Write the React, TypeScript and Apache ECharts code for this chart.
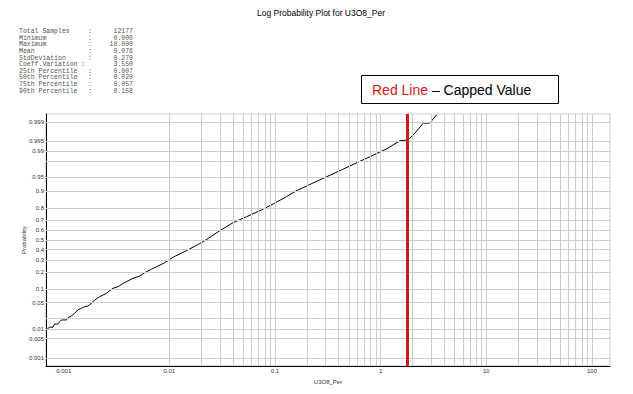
import React, { useEffect, useRef } from "react";
import * as echarts from "echarts";

// ---- data ----
const TITLE = "Log Probability Plot for U3O8_Per";
const X_NAME = "U3O8_Per";
const Y_NAME = "Probability";

const statLabels = [
  "Total Samples", "Minimum", "Maximum", "Mean", "StdDeviation", "Coeff.Variation",
  "25th Percentile", "50th Percentile", "75th Percentile", "90th Percentile",
];
const statValues = ["12177", "0.000", "18.000", "0.076", "0.270", "3.550", "0.007", "0.020", "0.057", "0.158"];

// curve: value (U3O8_Per) vs cumulative probability
const curveX = [
  0.00069, 0.00073, 0.00079, 0.00082, 0.00088, 0.00092, 0.00095, 0.00106, 0.0011, 0.00118,
  0.00127, 0.00136, 0.00147, 0.00158, 0.0017, 0.00183, 0.00197, 0.00219, 0.00236, 0.00254,
  0.00273, 0.00293, 0.00327, 0.00365, 0.00406, 0.00453, 0.00525, 0.00585, 0.00676, 0.00781,
  0.00904, 0.0108, 0.0145, 0.0209, 0.03, 0.0401, 0.0537, 0.0718, 0.0959, 0.1285,
  0.157, 0.243, 0.438, 0.678, 0.79, 1.146, 1.52, 1.76, 1.86, 2.11,
  2.53, 2.92, 3.38,
];
const curveP = [
  0.0092, 0.0112, 0.0112, 0.0139, 0.0139, 0.0162, 0.0181, 0.0181, 0.021, 0.0233,
  0.0275, 0.0335, 0.0369, 0.0404, 0.042, 0.0488, 0.0581, 0.0689, 0.0749, 0.0815,
  0.0922, 0.103, 0.111, 0.128, 0.142, 0.158, 0.173, 0.196, 0.222, 0.248,
  0.276, 0.325, 0.39, 0.482, 0.596, 0.675, 0.729, 0.778, 0.827, 0.872,
  0.9, 0.9365, 0.968, 0.982, 0.9854, 0.9916, 0.99533, 0.99558, 0.996, 0.99745,
  0.9989, 0.9989, 0.99948,
];

const cappedValue = [1.8];

const yGridProbs = [0.001, 0.005, 0.01, 0.02, 0.05, 0.1, 0.2, 0.3, 0.4, 0.5, 0.6, 0.7, 0.8, 0.9, 0.95, 0.98, 0.99, 0.995, 0.999];
const yLabelProbs = ["0.001", "0.005", "0.01", "0.05", "0.1", "0.2", "0.3", "0.4", "0.5", "0.6", "0.7", "0.8", "0.9", "0.95", "0.99", "0.995", "0.999"];

const X_MIN = 0.00068;
const X_MAX = 148;
const P_MIN = 0.000483; // z = -3.3
const P_MAX = 0.999517; // z = 3.3

// inverse standard normal CDF (probability-scale transform)
function probit(p: number): number {
  const a = [-3.969683028665376e1, 2.209460984245205e2, -2.759285104469687e2, 1.38357751867269e2, -3.066479806614716e1, 2.506628277459239];
  const b = [-5.447609879822406e1, 1.615858368580409e2, -1.556989798598866e2, 6.680131188771972e1, -1.328068155288572e1];
  const c = [-7.784894002430293e-3, -3.223964580411365e-1, -2.400758277161838, -2.549732539343734, 4.374664141464968, 2.938163982698783];
  const d = [7.784695709041462e-3, 3.224671290700398e-1, 2.445134137142996, 3.754408661907416];
  const pl = 0.02425;
  if (p < pl) {
    const q = Math.sqrt(-2 * Math.log(p));
    return (((((c[0] * q + c[1]) * q + c[2]) * q + c[3]) * q + c[4]) * q + c[5]) / ((((d[0] * q + d[1]) * q + d[2]) * q + d[3]) * q + 1);
  }
  if (p <= 1 - pl) {
    const q = p - 0.5;
    const r = q * q;
    return ((((((a[0] * r + a[1]) * r + a[2]) * r + a[3]) * r + a[4]) * r + a[5]) * q) / (((((b[0] * r + b[1]) * r + b[2]) * r + b[3]) * r + b[4]) * r + 1);
  }
  const q = Math.sqrt(-2 * Math.log(1 - p));
  return -(((((c[0] * q + c[1]) * q + c[2]) * q + c[3]) * q + c[4]) * q + c[5]) / ((((d[0] * q + d[1]) * q + d[2]) * q + d[3]) * q + 1);
}

const SANS = "'Liberation Sans', Arial, sans-serif";
const MONO = "'Liberation Mono', 'Courier New', monospace";
const GRID_COLOR = "#cdcdcd";
const STAT_COLOR = "#555";

export default function App() {
  const ref = useRef<HTMLDivElement>(null);

  useEffect(() => {
    if (!ref.current) return;
    const chart = echarts.init(ref.current, null, { renderer: "svg" });

    // vertical grid lines at 1..9 x 10^n
    const xGrid: any[] = [];
    for (let n = -3; n <= 2; n++) {
      for (let k = 1; k <= 9; k++) {
        const v = k * Math.pow(10, n);
        if (v > X_MIN && v < X_MAX) xGrid.push({ xAxis: v });
      }
    }
    const yGrid = yGridProbs.map((p) => {
      const lbl = yLabelProbs.find((s) => Math.abs(parseFloat(s) - p) < 1e-9);
      return {
        yAxis: probit(p),
        label: lbl
          ? { show: true, position: "start", formatter: lbl, fontSize: 6, color: "#333", fontFamily: SANS, distance: 2 }
          : { show: false },
      };
    });

    const curveData = curveX.map((x, i) => [x, probit(curveP[i])]);

    const graphics: any[] = [
      {
        type: "text",
        x: 321,
        y: 13,
        style: { text: TITLE, fontSize: 8.5, fontFamily: SANS, fill: "#000", align: "center", verticalAlign: "middle" },
      },
      {
        type: "rect",
        shape: { x: 361.5, y: 75.5, width: 197, height: 28 },
        style: { fill: "#fff", stroke: "#000", lineWidth: 1 },
      },
      {
        type: "text",
        x: 372,
        y: 89.5,
        style: {
          text: "{r|Red Line} – Capped Value",
          fontSize: 14,
          fontFamily: SANS,
          fill: "#000",
          verticalAlign: "middle",
          rich: { r: { fill: "#d01818", fontSize: 14, fontFamily: SANS } },
        },
      },
    ];
    statLabels.forEach((lab, i) => {
      const y = 31.7 + i * 6.6;
      graphics.push({
        type: "text", x: 19, y,
        style: { text: lab, fontSize: 6.5, fontFamily: MONO, fill: STAT_COLOR, verticalAlign: "middle" },
      });
      graphics.push({
        type: "text", x: lab === "Coeff.Variation" ? 81 : 88, y,
        style: { text: ":", fontSize: 6.5, fontFamily: MONO, fill: STAT_COLOR, verticalAlign: "middle" },
      });
      graphics.push({
        type: "text", x: 133, y,
        style: { text: statValues[i], fontSize: 6.5, fontFamily: MONO, fill: STAT_COLOR, align: "right", verticalAlign: "middle" },
      });
    });

    const option: any = {
      animation: false,
      backgroundColor: "#fff",
      grid: {
        left: 46, right: 23, top: 114, bottom: 28,
        show: true, borderColor: GRID_COLOR, borderWidth: 1, backgroundColor: "transparent",
      },
      xAxis: {
        type: "log",
        logBase: 10,
        min: X_MIN,
        max: X_MAX,
        name: X_NAME,
        nameLocation: "middle",
        nameGap: 11,
        nameTextStyle: { fontSize: 6, color: "#333", fontFamily: SANS },
        axisLine: { show: true, onZero: false, lineStyle: { color: "#000", width: 1 } },
        axisTick: { show: false },
        splitLine: { show: false },
        axisLabel: {
          fontSize: 6,
          color: "#333",
          fontFamily: SANS,
          margin: 2,
          showMinLabel: false,
          showMaxLabel: false,
          formatter: (v: number) => {
            const l = Math.log10(v);
            const r = Math.round(l);
            if (Math.abs(l - r) > 1e-6) return "";
            return String(Number(Math.pow(10, r).toFixed(Math.max(0, -r))));
          },
        },
      },
      yAxis: {
        type: "value",
        min: probit(P_MIN),
        max: probit(P_MAX),
        name: Y_NAME,
        nameLocation: "middle",
        nameGap: 19,
        nameRotate: 90,
        nameTextStyle: { fontSize: 6, color: "#333", fontFamily: SANS },
        axisLine: { show: true, onZero: false, lineStyle: { color: "#000", width: 1 } },
        axisTick: { show: false },
        axisLabel: { show: false },
        splitLine: { show: false },
      },
      series: [
        {
          type: "line",
          z: 1,
          silent: true,
          data: curveData,
          showSymbol: false,
          symbol: "none",
          lineStyle: { opacity: 0 },
          markLine: {
            silent: true,
            symbol: ["none", "none"],
            label: { show: false },
            lineStyle: { color: GRID_COLOR, width: 1, type: "solid" },
            emphasis: { disabled: true },
            data: [...xGrid, ...yGrid],
          },
        },
        {
          type: "line",
          z: 3,
          silent: true,
          data: curveData,
          showSymbol: false,
          symbol: "none",
          lineStyle: { color: "#000", width: 1 },
        },
        {
          type: "line",
          z: 4,
          silent: true,
          data: [],
          markLine: {
            silent: true,
            symbol: ["none", "none"],
            label: { show: false },
            lineStyle: { color: "#cc1a1a", width: 3, type: "solid" },
            emphasis: { disabled: true },
            data: cappedValue.map((v) => ({ xAxis: v })),
          },
        },
      ],
      graphic: graphics,
    };
    chart.setOption(option);
    return () => chart.dispose();
  }, []);

  return <div ref={ref} style={{ position: "absolute", left: 0, top: 0, width: 633, height: 394 }} />;
}
